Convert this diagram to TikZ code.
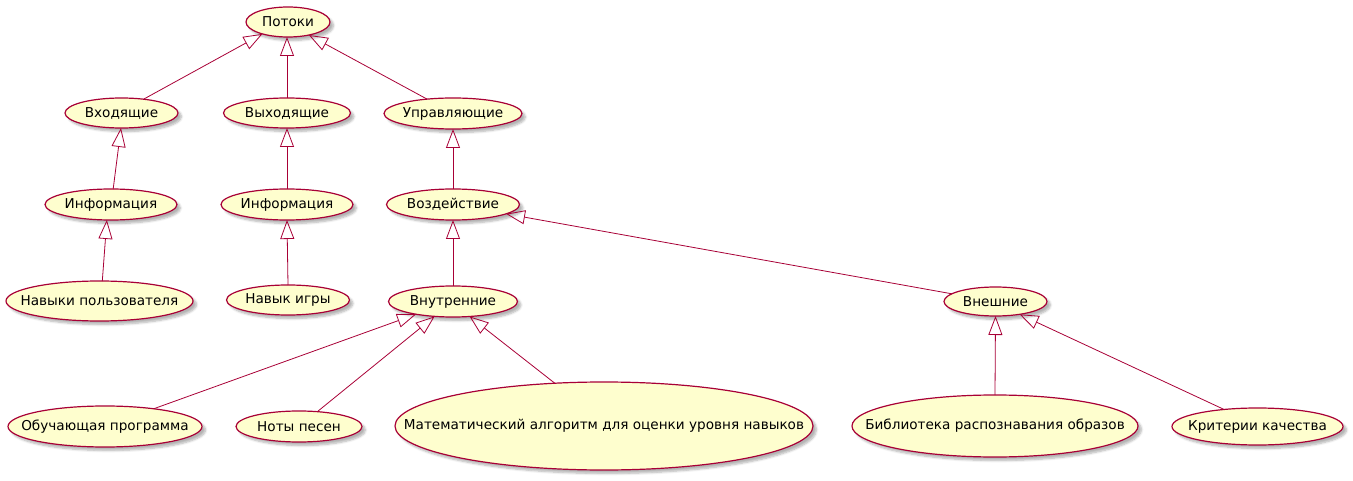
\documentclass[tikz,border=0pt]{standalone}
\usepackage{fontspec}
\setmainfont{DejaVu Sans}
\usetikzlibrary{shapes.geometric,arrows.meta,shadows,shadows.blur}
\definecolor{ucfill}{HTML}{FEFECE}
\definecolor{ucline}{HTML}{A80036}
\tikzset{
  uc/.style={ellipse, draw=ucline, fill=ucfill, line width=1.2pt, inner sep=0pt, outer sep=0pt,
    label={[font=\fontsize{13.6}{16}\selectfont, inner sep=0pt]center:#1},
    blur shadow={shadow xshift=3.5pt, shadow yshift=-3.5pt, shadow opacity=30, shadow blur steps=6}},
  gen/.style={draw=ucline, line width=0.8pt,
    -{Triangle[open, length=19pt, width=14pt, line width=0.8pt]}}
}
\begin{document}
\begin{tikzpicture}[x=1pt, y=-1pt]
\useasboundingbox (0,0) rectangle (1353,481);
\node[uc=Потоки, minimum width=84pt, minimum height=30pt] (P) at (288,22) {};
\node[uc=Входящие, minimum width=113pt, minimum height=30pt] (In) at (121.5,113) {};
\node[uc=Выходящие, minimum width=127pt, minimum height=30pt] (Out) at (287,113) {};
\node[uc=Управляющие, minimum width=138pt, minimum height=31pt] (Ctl) at (453,113.5) {};
\node[uc=Информация, minimum width=132pt, minimum height=31pt] (InfoL) at (111,204.5) {};
\node[uc=Информация, minimum width=132pt, minimum height=31pt] (InfoM) at (287,204.5) {};
\node[uc=Воздействие, minimum width=133pt, minimum height=31pt] (Act) at (453,204.5) {};
\node[uc=Навыки пользователя, minimum width=187pt, minimum height=40pt] (Skills) at (99.5,301) {};
\node[uc=Навык игры, minimum width=123pt, minimum height=30pt] (Game) at (288,300) {};
\node[uc=Внутренние, minimum width=129pt, minimum height=31pt] (Inner) at (453,301.5) {};
\node[uc=Внешние, minimum width=103pt, minimum height=29pt] (Ext) at (995.5,301.5) {};
\node[uc=Обучающая программа, minimum width=194pt, minimum height=41pt] (Learn) at (105,426.5) {};
\node[uc=Ноты песен, minimum width=126pt, minimum height=31pt] (Notes) at (299,426.5) {};
\node[uc=Математический алгоритм для оценки уровня навыков, minimum width=418pt, minimum height=88pt] (Math) at (604,426) {};
\node[uc=Библиотека распознавания образов, minimum width=286pt, minimum height=62pt] (Lib) at (995,426) {};
\node[uc=Критерии качества, minimum width=171pt, minimum height=37pt] (Crit) at (1257.5,426.5) {};

\draw[gen] (In.32.8) -- (P.205.7);
\draw[gen] (Out.north) -- (P.south -| Out.north);
\draw[gen] (Ctl.151.1) -- (P.328.3);
\draw[gen] (InfoL.82.6) -- (In.268);
\draw[gen] (InfoM.north) -- (Out.south);
\draw[gen] (Skills.82.9) -- (InfoL.255.5);
\draw[gen] (Game.north) -- (InfoM.south);
\draw[gen] (Act.north) -- (Ctl.south);
\draw[gen] (Inner.north) -- (Act.south);
\draw[gen] (Ext.170.1) -- (Act.350.2);
\draw[gen] (Learn.20.9) -- (Inner.199.7);
\draw[gen] (Notes.39.5) -- (Inner.219.6);
\draw[gen] (Math.139.8) -- (Inner.318.7);
\draw[gen] (Lib.north) -- (Ext.south);
\draw[gen] (Crit.153.9) -- (Ext.332.5);
\end{tikzpicture}
\end{document}
